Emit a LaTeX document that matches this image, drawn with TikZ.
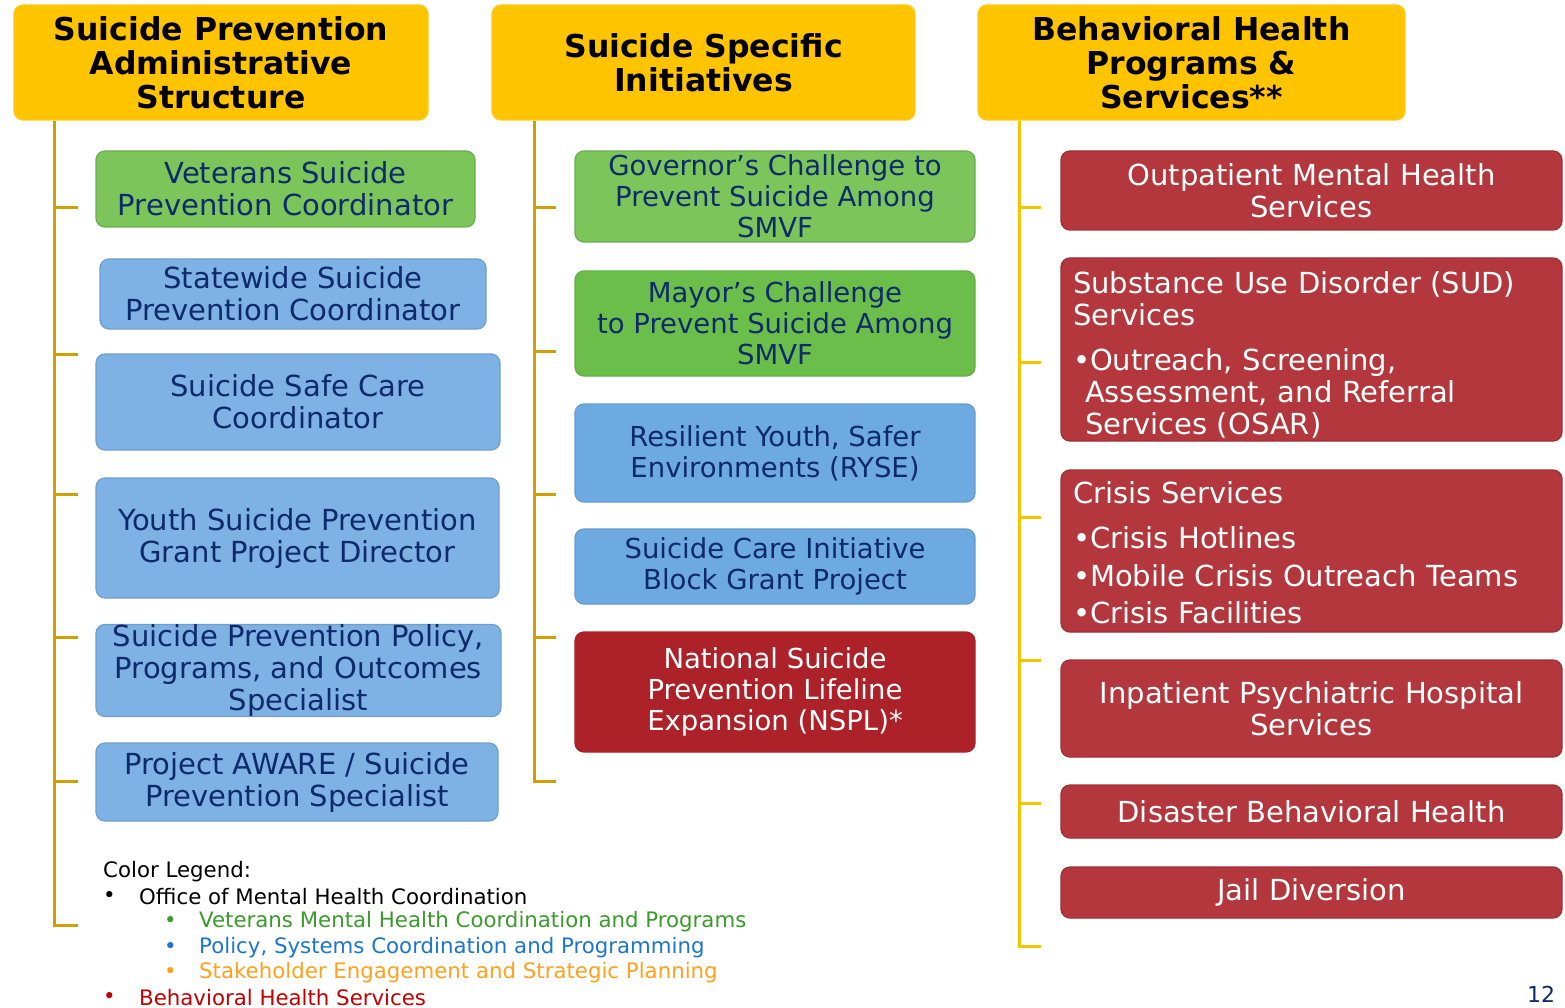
\documentclass[tikz,border=0pt]{standalone}
\usepackage{fontspec}
\setmainfont{DejaVu Sans}
\definecolor{hgold}{HTML}{FFC400}
\definecolor{trunkA}{HTML}{D0A000}
\definecolor{trunkB}{HTML}{F5C300}
\definecolor{navy}{HTML}{0E2A6B}
\definecolor{gA}{HTML}{7BC55B}
\definecolor{gB}{HTML}{6CBE4A}
\definecolor{bA}{HTML}{7EB1E4}
\definecolor{bB}{HTML}{6EAAE2}
\definecolor{rA}{HTML}{AD2129}
\definecolor{rB}{HTML}{B3373D}
\definecolor{lgG}{HTML}{3A9A2A}
\definecolor{lgB}{HTML}{1C75CC}
\definecolor{lgO}{HTML}{FFA01E}
\definecolor{lgR}{HTML}{C00000}
\tikzset{
  base/.style={rounded corners=9pt, line width=1.3pt, inner sep=0pt, align=center,
    text=navy, font=\fontsize{29}{32}\selectfont},
  hdr/.style={base, fill=hgold, draw=hgold!90!white, text=black,
    font=\bfseries\fontsize{31.5}{34}\selectfont, minimum height=115pt},
  greenbox/.style={base, fill=gA, draw=gA!88!black},
  greenboxB/.style={base, fill=gB, draw=gB!92!black},
  bluebox/.style={base, fill=bA, draw=bA!90!black},
  blueboxB/.style={base, fill=bB, draw=bB!92!black},
  nsplbox/.style={base, fill=rA, draw=rA, text=white},
  redbox/.style={base, fill=rB, draw=rB!88!black, text=white},
  redtext/.style={inner sep=0pt, align=left, text width=477pt, text=white,
    font=\fontsize{29}{32}\selectfont},
  midtext/.style={font=\fontsize{27.5}{31}\selectfont},
  trunkL/.style={draw=trunkA, line width=3pt},
  trunkR/.style={draw=trunkB, line width=3pt},
  leg/.style={anchor=west, inner sep=0pt, font=\fontsize{21.3}{25}\selectfont},
}
\begin{document}
\begin{tikzpicture}[x=1pt,y=-1pt]
\useasboundingbox (0,0) rectangle (1565,1008);
% headers
\node[hdr, minimum width=414pt] (h1) at (221,62.5) {Suicide Prevention\\Administrative\\Structure};
\node[hdr, minimum width=423pt] (h2) at (703.5,62.5) {Suicide Specific\\Initiatives};
\node[hdr, minimum width=427pt] (h3) at (1191.5,62.5) {Behavioral Health\\Programs \&\\Services**};
% left column
\node[greenbox, minimum width=379pt, minimum height=76pt] (l1) at (285.5,189) {Veterans Suicide\\Prevention Coordinator};
\node[bluebox, minimum width=386pt, minimum height=70pt] (l2) at (293,294) {Statewide Suicide\\Prevention Coordinator};
\node[bluebox, minimum width=404pt, minimum height=96pt] (l3) at (298,402) {Suicide Safe Care\\Coordinator};
\node[bluebox, minimum width=403pt, minimum height=120pt] (l4) at (297.5,538) {Youth Suicide Prevention\\Grant Project Director};
\node[bluebox, minimum width=405pt, minimum height=89pt] (l5) at (298.5,670.5) {Suicide Prevention Policy,\\Programs, and Outcomes\\Specialist};
\node[bluebox, minimum width=402pt, minimum height=78pt] (l6) at (297,782) {Project AWARE / Suicide\\Prevention Specialist};
% middle column
\node[greenbox, midtext, minimum width=400pt, minimum height=91pt] (m1) at (775,196.5) {Governor’s Challenge to\\Prevent Suicide Among\\SMVF};
\node[greenboxB, midtext, minimum width=400pt, minimum height=105pt] (m2) at (775,323.5) {Mayor’s Challenge\\to Prevent Suicide Among\\SMVF};
\node[blueboxB, midtext, minimum width=400pt, minimum height=98pt] (m3) at (775,453) {Resilient Youth, Safer\\Environments (RYSE)};
\node[blueboxB, midtext, minimum width=400pt, minimum height=75pt] (m4) at (775,566.5) {Suicide Care Initiative\\Block Grant Project};
\node[nsplbox, midtext, minimum width=400pt, minimum height=120pt] (m5) at (775,692) {National Suicide\\Prevention Lifeline\\Expansion (NSPL)*};
% right column
\node[redbox, minimum width=501pt, minimum height=79pt] (r1) at (1311.5,190.5) {Outpatient Mental Health\\Services};
\node[redbox, minimum width=501pt, minimum height=183pt] (r2) at (1311.5,349.5) {};
\node[redtext, yshift=-5pt] (r2t) at (r2.center)
  {Substance Use Disorder (SUD)\\Services\\[13pt]•Outreach, Screening,\\\hspace*{12pt}Assessment, and Referral\\\hspace*{12pt}Services (OSAR)};
\node[redbox, minimum width=501pt, minimum height=162pt] (r3) at (1311.5,551) {};
\node[redtext, yshift=-2pt] (r3t) at (r3.center)
  {Crisis Services\\[13pt]•Crisis Hotlines\\[5.5pt]•Mobile Crisis Outreach Teams\\[5.5pt]•Crisis Facilities};
\node[redbox, minimum width=501pt, minimum height=97pt] (r4) at (1311.5,708.5) {Inpatient Psychiatric Hospital\\Services};
\node[redbox, minimum width=501pt, minimum height=53pt] (r5) at (1311.5,811.5) {Disaster Behavioral Health};
\node[redbox, minimum width=501pt, minimum height=51pt] (r6) at (1311.5,892.5) {Jail Diversion};
% trunks
\coordinate (Ltop) at (54,121); \coordinate (Lbot) at (54,925); \coordinate (Lend) at (78,925);
\draw[trunkL] (Ltop) -- (Lbot) -- (Lend);
\foreach \i/\y in {1/208,2/354,3/494,4/637,5/781} {
  \coordinate (La\i) at (54,\y); \coordinate (Lb\i) at (78,\y);
  \draw[trunkL] (La\i) -- (Lb\i);
}
\coordinate (Mtop) at (534,121); \coordinate (Mbot) at (534,781); \coordinate (Mend) at (556,781);
\draw[trunkL] (Mtop) -- (Mbot) -- (Mend);
\foreach \i/\y in {1/208,2/351,3/494,4/637} {
  \coordinate (Ma\i) at (534,\y); \coordinate (Mb\i) at (556,\y);
  \draw[trunkL] (Ma\i) -- (Mb\i);
}
\coordinate (Rtop) at (1019,121); \coordinate (Rbot) at (1019,946); \coordinate (Rend) at (1041,946);
\draw[trunkR] (Rtop) -- (Rbot) -- (Rend);
\foreach \i/\y in {1/208,2/362,3/517,4/660,5/803} {
  \coordinate (Ra\i) at (1019,\y); \coordinate (Rb\i) at (1041,\y);
  \draw[trunkR] (Ra\i) -- (Rb\i);
}
% legend
\node[leg] (lg0) at (103,872) {Color Legend:};
\node[leg] (lg1b) at (103,897) {•};
\node[leg] (lg1) at (139,897) {Office of Mental Health Coordination};
\node[leg, text=lgG] (lg2b) at (164,922) {•};
\node[leg, text=lgG] (lg2) at (199,922) {Veterans Mental Health Coordination and Programs};
\node[leg, text=lgB] (lg3b) at (164,948) {•};
\node[leg, text=lgB] (lg3) at (199,948) {Policy, Systems Coordination and Programming};
\node[leg, text=lgO] (lg4b) at (164,973) {•};
\node[leg, text=lgO] (lg4) at (199,973) {Stakeholder Engagement and Strategic Planning};
\node[leg, text=lgR] (lg5b) at (103,998) {•};
\node[leg, text=lgR] (lg5) at (139,998) {Behavioral Health Services};
% page number
\node[anchor=base west, inner sep=0pt, text=navy, font=\fontsize{22}{24}\selectfont] (pg) at (1527,1002) {12};
\end{tikzpicture}
\end{document}
